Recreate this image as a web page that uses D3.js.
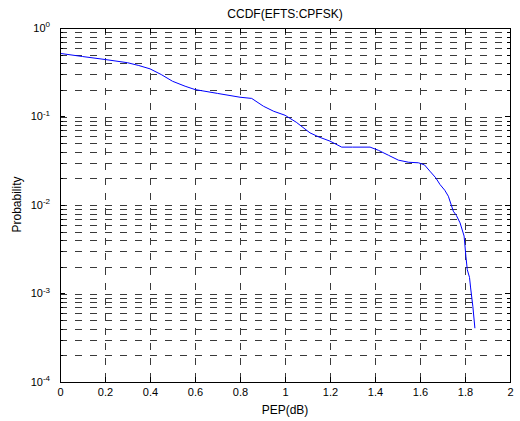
<!DOCTYPE html>
<html>
<head>
<meta charset="utf-8">
<script src="https://cdn.jsdelivr.net/npm/d3@7"></script>
<style>
  body { margin: 0; background: #fff; }
  svg { font-family: "Liberation Sans", Arial, sans-serif; }
</style>
</head>
<body>
<div id="container"></div>
<script>
// CCDF curve
const pep = [0, 0.1, 0.2, 0.3, 0.35, 0.4, 0.45, 0.5, 0.556, 0.6, 0.7, 0.8, 0.852, 0.904, 0.95,
  1.0, 1.05, 1.111, 1.15, 1.2, 1.252, 1.3, 1.378, 1.415, 1.46, 1.504, 1.55, 1.593, 1.62, 1.644,
  1.67, 1.689, 1.71, 1.726, 1.748, 1.762, 1.778, 1.796, 1.804, 1.81, 1.82, 1.825, 1.835, 1.844];
const prob = [0.51, 0.47, 0.435, 0.40, 0.372, 0.341, 0.294, 0.247, 0.217, 0.199, 0.18, 0.163, 0.158, 0.129, 0.113,
  0.102, 0.085, 0.0645, 0.058, 0.052, 0.0445, 0.0445, 0.0445, 0.041, 0.036, 0.0317, 0.030, 0.0296, 0.028, 0.0238,
  0.020, 0.0168, 0.0145, 0.0124, 0.0084, 0.0075, 0.0062, 0.0044, 0.0026, 0.00184, 0.0015, 0.00114, 0.0007, 0.0004];

const xTicks = [0, 0.2, 0.4, 0.6, 0.8, 1, 1.2, 1.4, 1.6, 1.8, 2];
const yTicks = [1e-4, 1e-3, 1e-2, 1e-1, 1];
const yExponents = ["-4", "-3", "-2", "-1", "0"];

const title = "CCDF(EFTS:CPFSK)";
const xLabel = "PEP(dB)";
const yLabel = "Probability";

const width = 520, height = 421;
const margin = { top: 27.5, right: 10, bottom: 39.5, left: 60 };
const innerW = width - margin.left - margin.right;
const innerH = height - margin.top - margin.bottom;

const svg = d3.select("#container")
  .append("svg")
  .attr("width", width)
  .attr("height", height);

const x = d3.scaleLinear().domain([0, 2]).range([0, innerW]);
const y = d3.scaleLog().domain([1e-4, 1]).range([innerH, 0]);

// minor values 1..9 x 10^k
const minorY = [];
for (let k = -4; k < 0; k++) {
  for (let m = 1; m <= 9; m++) minorY.push(m * Math.pow(10, k));
}
minorY.push(1);

const g = svg.append("g").attr("transform", `translate(${margin.left},${margin.top})`);

// grid
const grid = g.append("g")
  .attr("stroke", "#3a3a3a")
  .attr("stroke-width", 1)
  .attr("stroke-dasharray", "7,8")
  .attr("shape-rendering", "crispEdges");

grid.selectAll("line.h")
  .data(minorY.filter((v) => v > 1e-4 && v < 1))
  .enter()
  .append("line")
  .attr("class", "h")
  .attr("x1", 0)
  .attr("x2", innerW)
  .attr("y1", (d) => Math.round(y(d)) + 0.5)
  .attr("y2", (d) => Math.round(y(d)) + 0.5);

grid.selectAll("line.v")
  .data(xTicks.filter((v) => v > 0 && v < 2))
  .enter()
  .append("line")
  .attr("class", "v")
  .attr("y1", 0)
  .attr("y2", innerH)
  .attr("x1", (d) => Math.round(x(d)) + 0.5)
  .attr("x2", (d) => Math.round(x(d)) + 0.5);

// curve
const line = d3.line()
  .x((d, i) => x(pep[i]))
  .y((d, i) => y(prob[i]));

g.append("path")
  .datum(prob)
  .attr("fill", "none")
  .attr("stroke", "#0000ff")
  .attr("stroke-width", 1)
  .attr("d", line);

// axes (ticks inward, box)
const xAxis = d3.axisBottom(x).tickValues(xTicks).tickSizeInner(-5).tickSizeOuter(0).tickPadding(12)
  .tickFormat((d) => d3.format("")(d));
const xAxisTop = d3.axisTop(x).tickValues(xTicks).tickSizeInner(-5).tickSizeOuter(0).tickFormat("");
const yAxis = d3.axisLeft(y).tickValues(yTicks).tickSizeInner(-5).tickSizeOuter(0).tickPadding(10).tickFormat(() => "10");
const yAxisRight = d3.axisRight(y).tickValues(yTicks).tickSizeInner(-5).tickSizeOuter(0).tickFormat("");

const styleAxis = (sel) => {
  sel.selectAll("path").attr("stroke", "#000").attr("shape-rendering", "crispEdges");
  sel.selectAll("line").attr("stroke", "#000").attr("shape-rendering", "crispEdges");
  sel.selectAll("text").attr("fill", "#000").style("font-size", "11px");
};

g.append("g").attr("transform", `translate(0,${innerH})`).call(xAxis).call(styleAxis)
  .selectAll("text").attr("dy", "0.71em").attr("y", 7);
g.append("g").call(xAxisTop).call(styleAxis);
g.append("g").call(yAxis).call(styleAxis)
  .selectAll(".tick text")
  .each(function (d, i) {
    d3.select(this)
      .append("tspan")
      .attr("dy", "-0.55em")
      .style("font-size", "8px")
      .text(yExponents[yTicks.indexOf(d)]);
  });
g.append("g").attr("transform", `translate(${innerW},0)`).call(yAxisRight).call(styleAxis);

// minor y ticks on both sides
const minorTicks = g.append("g").attr("stroke", "#000").attr("shape-rendering", "crispEdges");
minorY.filter((v) => yTicks.indexOf(v) < 0).forEach((v) => {
  const yy = Math.round(y(v)) + 0.5;
  minorTicks.append("line").attr("x1", 0).attr("x2", 3).attr("y1", yy).attr("y2", yy);
  minorTicks.append("line").attr("x1", innerW - 3).attr("x2", innerW).attr("y1", yy).attr("y2", yy);
});

// box
g.append("rect")
  .attr("x", 0.5)
  .attr("y", 0.5)
  .attr("width", innerW)
  .attr("height", innerH)
  .attr("fill", "none")
  .attr("stroke", "#000")
  .attr("shape-rendering", "crispEdges");

// labels
svg.append("text")
  .attr("x", margin.left + innerW / 2)
  .attr("y", 17.5)
  .attr("text-anchor", "middle")
  .style("font-size", "12px")
  .text(title);

svg.append("text")
  .attr("x", margin.left + innerW / 2)
  .attr("y", 413.5)
  .attr("text-anchor", "middle")
  .style("font-size", "12px")
  .text(xLabel);

svg.append("text")
  .attr("transform", `translate(21,${margin.top + innerH / 2}) rotate(-90)`)
  .attr("text-anchor", "middle")
  .style("font-size", "12px")
  .text(yLabel);
</script>
</body>
</html>
